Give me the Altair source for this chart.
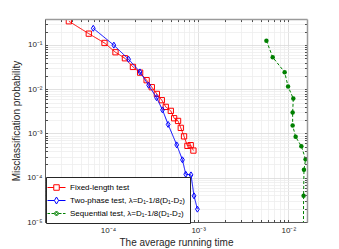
import altair as alt
import pandas as pd

# ---- data ----
fixed_t = [3.68e-5, 6.12e-5, 9.14e-5, 1.21e-4, 1.54e-4, 1.89e-4, 2.27e-4, 2.68e-4, 3.06e-4, 3.48e-4,
           3.95e-4, 4.37e-4, 4.97e-4, 5.41e-4, 5.98e-4, 6.41e-4, 6.97e-4, 7.60e-4, 8.26e-4, 8.85e-4]
fixed_p = [0.343, 0.180, 0.111, 0.0684, 0.0501, 0.0319, 0.0237, 0.0160, 0.0111, 0.00783,
           0.00565, 0.00399, 0.00324, 0.00221, 0.00192, 0.00134, 0.00086, 0.000525, 0.000545, 0.000411]

two_t = [6.86e-5, 1.16e-4, 1.69e-4, 2.26e-4, 2.82e-4, 3.45e-4, 4.02e-4, 4.64e-4, 5.78e-4, 6.69e-4,
         7.28e-4, 8.32e-4, 8.99e-4, 9.80e-4]
two_p = [0.238, 0.099, 0.0476, 0.0246, 0.0123, 0.00646, 0.00341, 0.0016, 0.000553, 0.000254,
         0.000120, 0.000116, 3.9e-5, 1.95e-5]

seq_t = [5.71e-3, 6.71e-3, 9.10e-3, 9.93e-3, 1.135e-2, 1.116e-2, 1.116e-2, 1.205e-2, 1.393e-2, 1.553e-2,
         1.49e-2, 1.476e-2, 1.47e-2]
seq_p = [0.125, 0.0528, 0.0242, 0.0115, 0.00614, 0.00297, 0.00151, 0.00084, 0.000516, 0.000263,
         0.000151, 3.9e-5, 8e-6]

series_names = ["Fixed-length test",
                "Two-phase test, λ=D₁-1/8(D₁-D₂)",
                "Sequential test, λ=D₁-1/8(D₁-D₂)"]
colors = ["#ff0000", "#0000ff", "#008000"]

x_domain = [2.0e-5, 1.61e-2]
y_domain = [1.0e-5, 0.386]
x_major = [1e-4, 1e-3, 1e-2]
y_major = [1e-5, 1e-4, 1e-3, 1e-2, 1e-1]
x_minor = [m * 10.0 ** e for e in (-5, -4, -3, -2) for m in range(2, 10)
           if x_domain[0] <= m * 10.0 ** e <= x_domain[1]]
y_minor = [m * 10.0 ** e for e in (-5, -4, -3, -2, -1) for m in range(2, 10)
           if y_domain[0] <= m * 10.0 ** e <= y_domain[1]]

W, H = 262, 203
FONT = "Liberation Sans"
TXT = "#262626"

sup = {-5: "10⁻⁵", -4: "10⁻⁴", -3: "10⁻³", -2: "10⁻²", -1: "10⁻¹"}
label_expr = " : ".join(
    f"datum.value < {3 * 10.0 ** e:g} ? '{s}'" for e, s in sorted(sup.items())
) + " : ''"

frames = []
for name, t, p in zip(series_names, [fixed_t, two_t, seq_t], [fixed_p, two_p, seq_p]):
    frames.append(pd.DataFrame({"name": name, "t": t, "p": p}))
df = pd.concat(frames, ignore_index=True)

xs = alt.Scale(type="log", domain=x_domain, nice=False)
ys = alt.Scale(type="log", domain=y_domain, nice=False)


def carrier(xaxis, yaxis):
    return alt.Chart(df).mark_point(opacity=0).encode(
        x=alt.X("t:Q", scale=xs, axis=xaxis),
        y=alt.Y("p:Q", scale=ys, axis=yaxis),
    )


minor_grid = carrier(
    alt.Axis(orient="bottom", values=x_minor, grid=True, gridColor="#ededed", gridWidth=0.8,
             labels=False, ticks=False, domain=False, title=None, zindex=0),
    alt.Axis(orient="left", values=y_minor, grid=True, gridColor="#ededed", gridWidth=0.8,
             labels=False, ticks=False, domain=False, title=None, zindex=0),
)

major = carrier(
    alt.Axis(orient="bottom", values=x_major, grid=True, gridColor="#d9d9d9", gridWidth=0.8,
             ticks=False, domain=True, domainColor="#5a5a5a", domainWidth=1,
             labelExpr=label_expr, labelFont=FONT, labelFontSize=8, labelColor=TXT, labelPadding=4,
             title="The average running time", titleFont=FONT, titleFontSize=10,
             titleFontWeight="normal", titleColor=TXT, titlePadding=3, zindex=0),
    alt.Axis(orient="left", values=y_major, grid=True, gridColor="#d9d9d9", gridWidth=0.8,
             ticks=False, domain=True, domainColor="#5a5a5a", domainWidth=1,
             labelExpr=label_expr, labelFont=FONT, labelFontSize=8, labelColor=TXT, labelPadding=3,
             title="Misclassification probability", titleFont=FONT, titleFontSize=10,
             titleFontWeight="normal", titleColor=TXT, titlePadding=5, zindex=0),
)

ticks_in_low = carrier(
    alt.Axis(orient="top", offset=-H, values=x_major + x_minor, ticks=True, tickSize=2.5,
             tickColor="#4d4d4d", labels=False, domain=False, grid=False, title=None, zindex=1),
    alt.Axis(orient="right", offset=-W, values=y_major + y_minor, ticks=True, tickSize=2.5,
             tickColor="#4d4d4d", labels=False, domain=False, grid=False, title=None, zindex=1),
)

ticks_in_high = carrier(
    alt.Axis(orient="bottom", offset=-H, values=x_major + x_minor, ticks=True, tickSize=2.5,
             tickColor="#4d4d4d", labels=False, domain=True, domainColor="#9a9a9a", domainWidth=1.5,
             grid=False, title=None, zindex=1),
    alt.Axis(orient="left", offset=-W, values=y_major + y_minor, ticks=True, tickSize=2.5,
             tickColor="#4d4d4d", labels=False, domain=True, domainColor="#9a9a9a", domainWidth=1.5,
             grid=False, title=None, zindex=1),
)

marker_shapes = ["square", "M0,-1.2L0.75,0L0,1.2L-0.75,0Z", "circle"]
marker_filled = [False, False, True]
marker_sizes = [28, 25, 20]
dashes = [[1, 0], [1, 0], [3, 2]]

series_layers = []
for name, col, shp, fil, sz, dash in zip(series_names, colors, marker_shapes, marker_filled,
                                         marker_sizes, dashes):
    base = alt.Chart(df).transform_filter(alt.datum.name == name)
    line = base.mark_line(color=col, strokeWidth=1, strokeDash=dash, clip=True).encode(
        x=alt.X("t:Q", scale=xs, axis=None),
        y=alt.Y("p:Q", scale=ys, axis=None),
        order=alt.Order("idx:Q"),
    ).transform_window(idx="row_number()")
    pts = base.mark_point(shape=shp, filled=fil, size=sz, color=col, strokeWidth=1, opacity=1,
                          clip=True).encode(
        x=alt.X("t:Q", scale=xs, axis=None),
        y=alt.Y("p:Q", scale=ys, axis=None),
    )
    series_layers += [line, pts]

legend_paths = [
    "M-1.8,0H-0.55M0.55,0H1.8M-0.55,-0.55H0.55V0.55H-0.55Z",
    "M-1.8,0H-0.4M0.4,0H1.8M0,-0.7L0.42,0L0,0.7L-0.42,0Z",
    "M-1.8,0H-1.3M-1.0,0H-0.5M0.5,0H1.0M1.3,0H1.8"
    "M-0.4,0A0.4,0.4 0 1,0 0.4,0A0.4,0.4 0 1,0 -0.4,0"
    "M-0.2,0A0.2,0.2 0 1,0 0.2,0A0.2,0.2 0 1,0 -0.2,0",
]

leg = alt.Legend(orient="none", legendX=1, legendY=158, title=None, symbolSize=100,
                 symbolStrokeWidth=1, labelFont=FONT, labelFontSize=8, labelColor="#000000",
                 labelOffset=8, rowPadding=2, padding=5, strokeColor="#262626",
                 fillColor="white", labelLimit=400, cornerRadius=0, zindex=2)

legend_df = pd.DataFrame({"name": series_names})
legend_layer = alt.Chart(legend_df).mark_point(filled=False, opacity=0).encode(
    color=alt.Color("name:N", scale=alt.Scale(domain=series_names, range=colors), legend=leg),
    shape=alt.Shape("name:N", scale=alt.Scale(domain=series_names, range=legend_paths), legend=leg),
)

chart = alt.layer(
    minor_grid, major, *series_layers, ticks_in_low, ticks_in_high, legend_layer
).resolve_axis(x="independent", y="independent").properties(
    width=W, height=H,
    autosize=alt.AutoSizeParams(type="none"),
    padding={"left": 37, "top": 11, "right": 20, "bottom": 27},
    background="white",
).configure_view(stroke=None)

chart.save("out.html", embed_options={"renderer": "svg", "actions": False})
